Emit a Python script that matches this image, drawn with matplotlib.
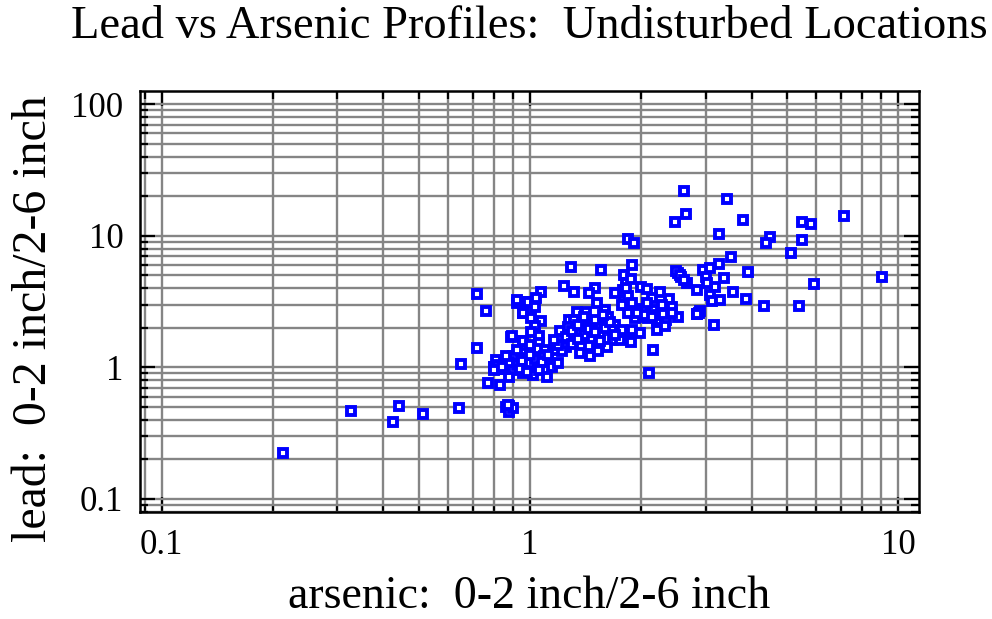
import matplotlib
matplotlib.use('Agg')
import matplotlib.pyplot as plt
from matplotlib.ticker import LogLocator, NullFormatter, FixedFormatter, FixedLocator

# ratios (0-2 inch / 2-6 inch) per sampling location
arsenic = [
    0.214, 0.326, 0.442, 0.426, 0.511, 0.643, 0.650, 0.718, 0.718, 0.762,
    0.771, 0.828, 0.86, 0.88, 0.88, 0.90, 0.889, 0.96, 0.80, 0.813,
    0.83, 0.87, 0.921, 0.98, 0.957,
    2.63, 3.43, 2.66, 2.48, 3.79, 7.12, 5.50, 5.80, 3.27, 5.50,
    4.48, 4.37, 1.85, 1.92, 5.12, 3.52, 3.27, 1.90, 1.29, 1.56,
    3.92, 9.07, 5.93, 3.36, 3.56, 3.87, 4.32, 5.39, 3.16, 2.16,
    2.11, 2.88, 2.84, 2.53, 2.58, 2.68, 2.96, 3.08, 3.00, 3.18,
    3.02, 2.85, 3.08, 3.13, 3.28, 0.874, 1.11,
    1.07, 0.985, 1.04, 0.94, 0.92, 1.03, 0.96, 1.01, 1.07, 1.03,
    1.01, 1.06, 0.893, 0.96, 1.06, 1.05, 0.95, 0.954, 0.90, 0.83,
    0.87, 0.80, 0.98, 1.05, 1.12, 1.17, 1.15, 0.96, 1.00, 0.90,
    1.19, 1.10, 0.81, 0.92, 1.00, 1.09, 0.88, 1.02,
    1.24, 1.32, 1.50, 1.45, 1.34, 1.42, 1.60, 1.52, 1.63, 1.28,
    1.32, 1.21, 1.27, 1.37, 1.47, 1.55, 1.70, 1.78, 1.88, 1.88,
    1.37, 1.46, 1.53, 1.25, 1.31, 1.22, 1.19, 1.16, 1.68, 1.62,
    1.49, 1.55, 1.43, 1.67, 1.76,
    1.80, 1.83, 1.79, 1.70, 1.80, 2.00, 2.08, 2.26, 2.38, 2.44,
    2.52, 2.35, 2.21, 2.10, 1.99, 1.93, 2.03, 1.91, 1.85, 1.89,
    1.99, 2.21, 2.33, 2.16, 2.28, 2.14, 2.08, 2.43,
    0.82, 0.85, 0.88, 0.92, 0.95, 1.00, 1.03, 1.08, 0.86, 0.94,
    1.12, 1.00, 0.98, 1.06, 0.80, 0.84,
    1.25, 1.30, 1.35, 1.40, 1.45, 1.50, 1.40, 1.55, 1.60, 1.65,
    1.30, 1.45, 1.50, 1.70, 1.58, 1.35,
    1.78, 1.85, 1.82, 1.90, 1.95, 2.05, 2.20, 2.30, 2.15, 1.88,
    2.50, 2.55, 2.62, 2.90, 2.85,
]
lead = [
    0.223, 0.47, 0.507, 0.383, 0.443, 0.49, 1.06, 1.40, 3.62, 2.67,
    0.762, 0.732, 0.50, 0.51, 0.46, 0.49, 1.71, 1.60, 1.00, 1.03,
    0.97, 1.05, 3.07, 3.15, 2.58,
    21.9, 19.1, 14.6, 12.7, 13.1, 14.1, 12.8, 12.3, 10.4, 9.36,
    9.8, 8.83, 9.47, 8.79, 7.41, 6.87, 6.08, 6.04, 5.83, 5.48,
    5.29, 4.90, 4.31, 4.79, 3.77, 3.28, 2.95, 2.95, 2.11, 1.35,
    0.904, 2.61, 2.55, 5.20, 4.85, 4.41, 5.50, 5.67, 4.89, 4.10,
    4.41, 3.87, 3.56, 3.22, 3.27, 0.519, 0.84,
    3.73, 3.16, 3.34, 3.16, 3.26, 2.87, 2.58, 2.36, 2.27, 2.07,
    1.87, 1.73, 1.73, 1.60, 1.53, 1.37, 1.28, 1.17, 1.21, 1.01,
    1.08, 1.01, 1.04, 1.01, 1.14, 1.36, 1.01, 0.90, 0.96, 0.96,
    1.08, 1.36, 1.14, 1.36, 1.48, 1.21, 0.85, 0.88,
    4.16, 3.73, 4.00, 3.66, 2.65, 2.65, 2.73, 3.07, 2.43, 2.30,
    2.30, 1.90, 2.02, 1.82, 1.62, 1.82, 2.10, 1.93, 1.82, 1.57,
    1.28, 1.22, 1.32, 1.44, 1.57, 1.32, 1.48, 1.62, 1.62, 1.44,
    2.23, 2.10, 2.04, 1.93, 1.62,
    5.04, 4.36, 3.87, 3.66, 3.26, 4.06, 3.93, 3.77, 3.30, 2.87,
    2.43, 2.30, 2.30, 2.36, 2.43, 2.36, 2.77, 2.73, 2.58, 1.93,
    1.82, 1.93, 2.07, 2.73, 2.98, 3.36, 3.07, 2.58,
    1.05, 0.98, 1.10, 1.05, 1.12, 1.08, 1.15, 1.10, 1.22, 0.98,
    1.25, 1.25, 0.92, 0.95, 0.95, 1.00,
    1.70, 1.90, 2.10, 1.75, 1.95, 2.30, 2.40, 1.60, 2.00, 2.20,
    1.50, 1.45, 1.85, 1.75, 2.50, 1.65,
    3.00, 3.50, 4.00, 3.10, 2.60, 2.50, 2.50, 2.55, 2.40, 4.70,
    5.40, 5.00, 4.60, 2.70, 2.55,
]

x_ticks = [0.1, 1, 10]
x_labels = ['0.1', '1', '10']
y_ticks = [0.1, 1, 10, 100]
y_labels = ['0.1', '1', '10', '100']

plt.rcParams['font.family'] = 'Liberation Serif'

fig = plt.figure(figsize=(9.92, 6.19), dpi=100)
ax = fig.add_axes([0.1411, 0.1729, 0.7853, 0.6801])

ax.plot(arsenic, lead, linestyle='none', marker='s', markersize=5.4,
        markerfacecolor='white', markeredgecolor='#0000ff', markeredgewidth=2.8,
        zorder=3)

ax.set_xscale('log')
ax.set_yscale('log')
ax.set_xlim(0.0873, 11.4)
ax.set_ylim(0.0796, 126)

ax.xaxis.set_major_locator(FixedLocator(x_ticks))
ax.xaxis.set_major_formatter(FixedFormatter(x_labels))
ax.yaxis.set_major_locator(FixedLocator(y_ticks))
ax.yaxis.set_major_formatter(FixedFormatter(y_labels))
ax.xaxis.set_minor_locator(LogLocator(base=10, subs=range(2, 10), numticks=20))
ax.yaxis.set_minor_locator(LogLocator(base=10, subs=range(2, 10), numticks=20))
ax.xaxis.set_minor_formatter(NullFormatter())
ax.yaxis.set_minor_formatter(NullFormatter())

ax.grid(True, which='both', color='#858585', linewidth=1.7)
ax.set_axisbelow(True)
ax.tick_params(which='both', direction='in', top=True, right=True,
               color='black', width=1.6, labelsize=25)
ax.tick_params(which='major', length=11)
ax.tick_params(which='minor', length=5.5)
ax.tick_params(axis='x', pad=12)
ax.tick_params(axis='y', pad=12)
for s in ax.spines.values():
    s.set_linewidth(1.8)

ax.set_title('Lead vs Arsenic Profiles:  Undisturbed Locations',
             fontsize=33.5, pad=38, x=0.5)
ax.set_xlabel('arsenic:  0-2 inch/2-6 inch', fontsize=33, labelpad=10)
ax.set_ylabel('lead:  0-2 inch/2-6 inch', fontsize=34.5, labelpad=8)
ax.yaxis.set_label_coords(-0.108, 0.46)

plt.savefig('out.png', dpi=100)
